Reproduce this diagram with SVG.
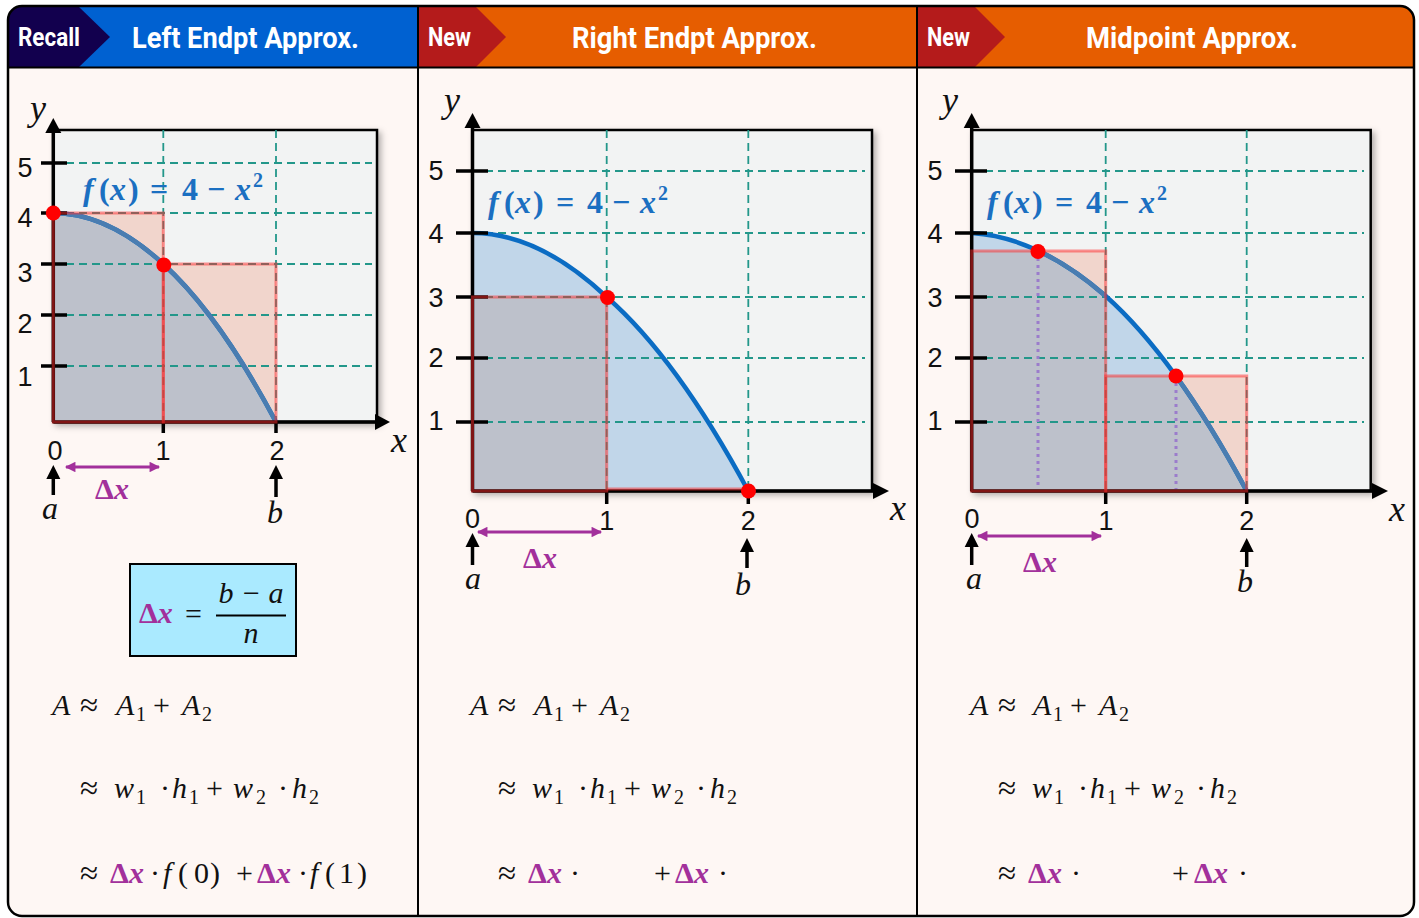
<svg xmlns="http://www.w3.org/2000/svg" width="1419" height="918" viewBox="0 0 1419 918">
<style>
.hd{font-family:Roboto,"Liberation Sans",sans-serif;font-weight:700;fill:#fff}
.tk{font-family:"Liberation Sans",Arial,sans-serif;font-size:27px;fill:#111;text-anchor:middle}
.it{font-style:italic}
.m{font-family:"Liberation Serif","Times New Roman",serif;font-size:30px;fill:#111}
.sb{font-size:20px}
.ap{font-size:33px}
.dx{fill:#a2309b;font-weight:bold}
.fl{font-family:"Liberation Serif","Times New Roman",serif;font-size:32px;font-weight:bold;fill:#1b6fc1}
.grid{stroke:#23978a;stroke-width:1.8;stroke-dasharray:8 5;fill:none}
.ax{stroke:#000;stroke-width:3.5;fill:none}
.plot{fill:#f2f3f3;stroke:#000;stroke-width:2.5}
.pink{fill:#f1d5cc}
.blue{fill:#c1d6e9}
.gb{fill:#bdc1cb}
.cv{fill:none;stroke:#0b6cc3;stroke-width:4.5}
.cvm{fill:none;stroke:#4a7db1;stroke-width:4.5}
.rs{fill:none;stroke:#ff2a2a;stroke-opacity:.5;stroke-width:3}
.dot{fill:#ff0000}
.pa{stroke:#a2309b;stroke-width:3;fill:none;marker-start:url(#pah);marker-end:url(#pah)}
.ua{stroke:#000;stroke-width:3.5;fill:none}
.lbl{font-family:"Liberation Serif","Times New Roman",serif;font-style:italic;fill:#111;text-anchor:middle}
.mid{stroke:#9b7ccc;stroke-width:3;stroke-dasharray:3 4;fill:none}
</style>
<defs>
<marker id="pah" viewBox="0 0 10 10" refX="9" refY="5" markerWidth="4" markerHeight="3.5" orient="auto-start-reverse" markerUnits="strokeWidth"><path d="M0,0 L10,5 L0,10 z" fill="#a2309b"/></marker>
<filter id="sh" x="-5%" y="-5%" width="115%" height="115%"><feDropShadow dx="3" dy="3" stdDeviation="3" flood-color="#000" flood-opacity="0.3"/></filter>
<clipPath id="frame"><rect x="8" y="6" width="1406" height="910" rx="14"/></clipPath>
<clipPath id="c1"><rect x="53.3" y="213" width="110" height="209"/><rect x="163.3" y="264" width="112.7" height="158"/></clipPath>
<clipPath id="c2"><rect x="472.5" y="297" width="134.2" height="194"/></clipPath>
<clipPath id="c3"><rect x="971.7" y="251" width="134" height="240"/><rect x="1105.7" y="376" width="141" height="115"/></clipPath>
</defs>

<g id="frame-bg">
<rect x="8" y="6" width="1406" height="910" rx="14" fill="#fef7f4"/>
<g clip-path="url(#frame)">
<rect x="8" y="6" width="410" height="62" fill="#0061d1"/>
<polygon points="8,6 78,6 110,37 78,68 8,68" fill="#12004e"/>
<rect x="418" y="6" width="499" height="62" fill="#e65d00"/>
<polygon points="418,6 475,6 506,37 475,68 418,68" fill="#b41b1b"/>
<rect x="917" y="6" width="497" height="62" fill="#e65d00"/>
<polygon points="917,6 974,6 1005,37 974,68 917,68" fill="#b41b1b"/>
</g>
<line x1="8" y1="67.5" x2="1414" y2="67.5" stroke="#000" stroke-width="2"/>
<line x1="418" y1="6" x2="418" y2="916" stroke="#000" stroke-width="2"/>
<line x1="917" y1="6" x2="917" y2="916" stroke="#000" stroke-width="2"/>
<rect x="8" y="6" width="1406" height="910" rx="14" fill="none" stroke="#000" stroke-width="2.5"/>
</g>

<g id="hdr-left">
<text class="hd" x="18" y="46" font-size="25" textLength="62" lengthAdjust="spacingAndGlyphs">Recall</text>
<text class="hd" x="132" y="48" font-size="30" textLength="227" lengthAdjust="spacingAndGlyphs">Left Endpt Approx.</text>
</g>
<g id="hdr-mid">
<text class="hd" x="428" y="46" font-size="25" textLength="43" lengthAdjust="spacingAndGlyphs">New</text>
<text class="hd" x="572" y="48" font-size="30" textLength="245" lengthAdjust="spacingAndGlyphs">Right Endpt Approx.</text>
</g>
<g id="hdr-right">
<text class="hd" x="927" y="46" font-size="25" textLength="43" lengthAdjust="spacingAndGlyphs">New</text>
<text class="hd" x="1086" y="48" font-size="30" textLength="212" lengthAdjust="spacingAndGlyphs">Midpoint Approx.</text>
</g>

<g id="graph-left">
<rect class="plot" x="53.3" y="130" width="323.7" height="292" filter="url(#sh)"/>
<rect class="pink" x="53.3" y="213" width="110" height="209"/>
<rect class="pink" x="163.3" y="264" width="112.7" height="158"/>
<path class="blue" d="M53.3,422 L53.3,213 Q107.9,213 163.3,264 Q219.3,315 276,422 Z"/>
<path class="gb" clip-path="url(#c1)" d="M53.3,422 L53.3,213 Q107.9,213 163.3,264 Q219.3,315 276,422 Z"/>
<path class="grid" d="M53,163H372M53,213H372M53,264H372M53,315H372M53,366H372M163.3,130V422M276,130V422"/>
<path class="cv" d="M53.3,213 Q107.9,213 163.3,264 Q219.3,315 276,422"/>
<path class="cvm" clip-path="url(#c1)" d="M53.3,213 Q107.9,213 163.3,264 Q219.3,315 276,422"/>
<path class="ax" d="M53.3,422V130M53.3,422H376M41,163H67M41,213H67M41,264H67M41,315H67M41,366H67M163.3,422V433M276,422V433"/>
<polygon points="53.3,118 45.3,133 61.3,133" fill="#000"/>
<polygon points="390,422 375,414 375,430" fill="#000"/>
<rect class="rs" x="53.3" y="213" width="110" height="209"/>
<rect class="rs" x="163.3" y="264" width="112.7" height="158"/>
<circle class="dot" cx="53.3" cy="213" r="7.5"/>
<circle class="dot" cx="163.8" cy="265" r="7.5"/>
<text class="tk" x="25" y="177" font-size="28">5</text>
<text class="tk" x="25" y="227" font-size="28">4</text>
<text class="tk" x="25" y="282" font-size="28">3</text>
<text class="tk" x="25" y="333" font-size="28">2</text>
<text class="tk" x="25" y="386" font-size="28">1</text>
<text class="tk" x="55" y="460">0</text>
<text class="tk" x="163" y="460">1</text>
<text class="tk" x="277" y="460">2</text>
<text class="lbl" x="399" y="452" font-size="36">x</text>
<text class="lbl" x="38" y="120" font-size="36">y</text>
<text class="lbl" x="50" y="519" font-size="32">a</text>
<text class="lbl" x="275" y="523" font-size="32">b</text>
<text class="m dx" x="112" y="499" text-anchor="middle" font-size="32">Δ<tspan class="it">x</tspan></text>
<text class="fl"><tspan class="it" x="83" y="200">f</tspan><tspan x="99" y="200">(</tspan><tspan class="it" x="110" y="200">x</tspan><tspan x="128" y="200">)</tspan><tspan x="150" y="200">=</tspan><tspan x="182" y="200">4</tspan><tspan x="207" y="200">−</tspan><tspan class="it" x="235" y="200">x</tspan><tspan x="253" y="187" font-size="20">2</tspan></text>
</g>

<g id="formula-box">
<rect x="130" y="564" width="166" height="92" fill="#aaeaff" stroke="#000" stroke-width="2"/>
<text class="m dx" x="139" y="623" font-size="32">Δ<tspan class="it">x</tspan></text>
<text class="m" x="185" y="624" font-size="34">=</text>
<text class="m it" x="251" y="603" text-anchor="middle" font-size="31">b − a</text>
<line x1="216" y1="615.5" x2="286" y2="615.5" stroke="#000" stroke-width="2"/>
<text class="m it" x="251" y="643" text-anchor="middle" font-size="31">n</text>
</g>

<g id="eq-left">
<text class="m"><tspan class="it" x="52" y="715">A</tspan><tspan class="ap" x="80" y="716">≈</tspan><tspan class="it" x="116" y="715">A</tspan><tspan class="sb" x="136" y="721">1</tspan><tspan x="153" y="715">+</tspan><tspan class="it" x="182" y="715">A</tspan><tspan class="sb" x="202" y="721">2</tspan></text>
<text class="m"><tspan class="ap" x="80" y="799">≈</tspan><tspan class="it" x="114" y="798">w</tspan><tspan class="sb" x="136" y="804">1</tspan><tspan x="160" y="798">·</tspan><tspan class="it" x="172" y="798">h</tspan><tspan class="sb" x="189" y="804">1</tspan><tspan x="206" y="798">+</tspan><tspan class="it" x="233" y="798">w</tspan><tspan class="sb" x="256" y="804">2</tspan><tspan x="278" y="798">·</tspan><tspan class="it" x="292" y="798">h</tspan><tspan class="sb" x="309" y="804">2</tspan></text>
<text class="m"><tspan class="ap" x="80" y="884">≈</tspan><tspan class="dx" x="110" y="883">Δ</tspan><tspan class="dx it" x="129" y="883">x</tspan><tspan x="150" y="883">·</tspan><tspan class="it" x="163" y="883">f</tspan><tspan x="178" y="883">(</tspan><tspan x="194" y="883">0</tspan><tspan x="210" y="883">)</tspan><tspan x="236" y="883">+</tspan><tspan class="dx" x="257" y="883">Δ</tspan><tspan class="dx it" x="276" y="883">x</tspan><tspan x="298" y="883">·</tspan><tspan class="it" x="310" y="883">f</tspan><tspan x="325" y="883">(</tspan><tspan x="339" y="883">1</tspan><tspan x="357" y="883">)</tspan></text>
</g>

<g id="graph-mid">
<rect class="plot" x="472.5" y="130" width="399.5" height="361" filter="url(#sh)"/>
<rect class="pink" x="472.5" y="297" width="134.2" height="194"/>
<path class="blue" d="M472.5,491 L472.5,233 Q538.7,233 606.7,297 Q676.6,358 748.3,491 Z"/>
<path class="gb" clip-path="url(#c2)" d="M472.5,491 L472.5,233 Q538.7,233 606.7,297 Q676.6,358 748.3,491 Z"/>
<path class="grid" d="M472,171H865M472,233H865M472,297H865M472,358H865M472,422H865M606.7,130V491M748.3,130V491"/>
<path class="cv" d="M472.5,233 Q538.7,233 606.7,297 Q676.6,358 748.3,491"/>
<path class="ax" d="M472.5,491V128M472.5,491H874M456,171H488M456,233H488M456,297H488M456,358H488M456,422H488M606.7,491V504M748.3,491V504"/>
<polygon points="472.5,113 464.5,128 480.5,128" fill="#000"/>
<polygon points="889,491 873,483 873,499" fill="#000"/>
<rect class="rs" x="472.5" y="297" width="134.2" height="194"/>
<line class="rs" x1="606.7" y1="489" x2="748.3" y2="489"/>
<circle class="dot" cx="607.5" cy="297.5" r="7.5"/>
<circle class="dot" cx="748.5" cy="491" r="7.5"/>
<text class="tk" x="436" y="180">5</text>
<text class="tk" x="436" y="243">4</text>
<text class="tk" x="436" y="307">3</text>
<text class="tk" x="436" y="367">2</text>
<text class="tk" x="436" y="430">1</text>
<text class="tk" x="472.5" y="528" font-size="28">0</text>
<text class="tk" x="606.7" y="530" font-size="28">1</text>
<text class="tk" x="748.3" y="530" font-size="28">2</text>
<text class="lbl" x="898" y="520" font-size="36">x</text>
<text class="lbl" x="452" y="112" font-size="36">y</text>
<text class="lbl" x="473" y="589" font-size="32">a</text>
<text class="lbl" x="743" y="595" font-size="32">b</text>
<text class="m dx" x="540" y="568" text-anchor="middle" font-size="32">Δ<tspan class="it">x</tspan></text>
<text class="fl"><tspan class="it" x="488" y="213">f</tspan><tspan x="504" y="213">(</tspan><tspan class="it" x="515" y="213">x</tspan><tspan x="533" y="213">)</tspan><tspan x="556" y="213">=</tspan><tspan x="587" y="213">4</tspan><tspan x="612" y="213">−</tspan><tspan class="it" x="640" y="213">x</tspan><tspan x="658" y="200" font-size="20">2</tspan></text>
</g>

<g id="eq-mid">
<text class="m"><tspan class="it" x="470" y="715">A</tspan><tspan class="ap" x="498" y="716">≈</tspan><tspan class="it" x="534" y="715">A</tspan><tspan class="sb" x="554" y="721">1</tspan><tspan x="571" y="715">+</tspan><tspan class="it" x="600" y="715">A</tspan><tspan class="sb" x="620" y="721">2</tspan></text>
<text class="m"><tspan class="ap" x="498" y="799">≈</tspan><tspan class="it" x="532" y="798">w</tspan><tspan class="sb" x="554" y="804">1</tspan><tspan x="578" y="798">·</tspan><tspan class="it" x="590" y="798">h</tspan><tspan class="sb" x="607" y="804">1</tspan><tspan x="624" y="798">+</tspan><tspan class="it" x="651" y="798">w</tspan><tspan class="sb" x="674" y="804">2</tspan><tspan x="696" y="798">·</tspan><tspan class="it" x="710" y="798">h</tspan><tspan class="sb" x="727" y="804">2</tspan></text>
<text class="m"><tspan class="ap" x="498" y="884">≈</tspan><tspan class="dx" x="528" y="883">Δ</tspan><tspan class="dx it" x="547" y="883">x</tspan><tspan x="570" y="883">·</tspan><tspan x="654" y="883">+</tspan><tspan class="dx" x="675" y="883">Δ</tspan><tspan class="dx it" x="694" y="883">x</tspan><tspan x="718" y="883">·</tspan></text>
</g>

<g id="graph-right">
<rect class="plot" x="971.7" y="130" width="399" height="361" filter="url(#sh)"/>
<rect class="pink" x="971.7" y="251" width="134" height="240"/>
<rect class="pink" x="1105.7" y="376" width="141" height="115"/>
<path class="blue" d="M971.7,491 L971.7,233 Q1037.8,237 1105.7,296 Q1175.3,358 1246.7,491 Z"/>
<path class="gb" clip-path="url(#c3)" d="M971.7,491 L971.7,233 Q1037.8,237 1105.7,296 Q1175.3,358 1246.7,491 Z"/>
<path class="grid" d="M972,171H1364M972,233H1364M972,297H1364M972,358H1364M972,422H1364M1105.7,130V491M1246.7,130V491"/>
<path class="cv" d="M971.7,233 Q1037.8,237 1105.7,296 Q1175.3,358 1246.7,491"/>
<path class="cvm" clip-path="url(#c3)" d="M971.7,233 Q1037.8,237 1105.7,296 Q1175.3,358 1246.7,491"/>
<path class="ax" d="M971.7,491V128M971.7,491H1373M955,171H987M955,233H987M955,297H987M955,358H987M955,422H987M1105.7,491V504M1246.7,491V504"/>
<polygon points="971.7,113 963.7,128 979.7,128" fill="#000"/>
<polygon points="1388,491 1372,483 1372,499" fill="#000"/>
<rect class="rs" x="971.7" y="251" width="134" height="240"/>
<rect class="rs" x="1105.7" y="376" width="141" height="115"/>
<path class="mid" d="M1038,258V489M1176,383V489"/>
<circle class="dot" cx="1038" cy="251.5" r="7.5"/>
<circle class="dot" cx="1176" cy="376" r="7.5"/>
<text class="tk" x="935" y="180">5</text>
<text class="tk" x="935" y="243">4</text>
<text class="tk" x="935" y="307">3</text>
<text class="tk" x="935" y="367">2</text>
<text class="tk" x="935" y="430">1</text>
<text class="tk" x="972" y="528" font-size="28">0</text>
<text class="tk" x="1106" y="530" font-size="28">1</text>
<text class="tk" x="1246.7" y="530" font-size="28">2</text>
<text class="lbl" x="1397" y="521" font-size="36">x</text>
<text class="lbl" x="950" y="112" font-size="36">y</text>
<text class="lbl" x="974" y="589" font-size="32">a</text>
<text class="lbl" x="1245" y="592" font-size="32">b</text>
<text class="m dx" x="1040" y="572" text-anchor="middle" font-size="32">Δ<tspan class="it">x</tspan></text>
<text class="fl"><tspan class="it" x="987" y="213">f</tspan><tspan x="1003" y="213">(</tspan><tspan class="it" x="1014" y="213">x</tspan><tspan x="1032" y="213">)</tspan><tspan x="1055" y="213">=</tspan><tspan x="1086" y="213">4</tspan><tspan x="1111" y="213">−</tspan><tspan class="it" x="1139" y="213">x</tspan><tspan x="1157" y="200" font-size="20">2</tspan></text>
</g>

<g id="eq-right">
<text class="m"><tspan class="it" x="970" y="715">A</tspan><tspan class="ap" x="998" y="716">≈</tspan><tspan class="it" x="1033" y="715">A</tspan><tspan class="sb" x="1053" y="721">1</tspan><tspan x="1070" y="715">+</tspan><tspan class="it" x="1099" y="715">A</tspan><tspan class="sb" x="1119" y="721">2</tspan></text>
<text class="m"><tspan class="ap" x="998" y="799">≈</tspan><tspan class="it" x="1032" y="798">w</tspan><tspan class="sb" x="1054" y="804">1</tspan><tspan x="1078" y="798">·</tspan><tspan class="it" x="1090" y="798">h</tspan><tspan class="sb" x="1107" y="804">1</tspan><tspan x="1124" y="798">+</tspan><tspan class="it" x="1151" y="798">w</tspan><tspan class="sb" x="1174" y="804">2</tspan><tspan x="1196" y="798">·</tspan><tspan class="it" x="1210" y="798">h</tspan><tspan class="sb" x="1227" y="804">2</tspan></text>
<text class="m"><tspan class="ap" x="998" y="884">≈</tspan><tspan class="dx" x="1028" y="883">Δ</tspan><tspan class="dx it" x="1047" y="883">x</tspan><tspan x="1071" y="883">·</tspan><tspan x="1172" y="883">+</tspan><tspan class="dx" x="1194" y="883">Δ</tspan><tspan class="dx it" x="1213" y="883">x</tspan><tspan x="1238" y="883">·</tspan></text>
</g>

<g id="connectors">
<line class="pa" x1="66" y1="467" x2="159" y2="467"/>
<line class="pa" x1="478" y1="532" x2="601" y2="532"/>
<line class="pa" x1="978" y1="536" x2="1101" y2="536"/>
<line class="ua" x1="53.3" y1="495" x2="53.3" y2="476"/>
<polygon points="53.3,465 46.3,479 60.3,479" fill="#000"/>
<line class="ua" x1="276" y1="497" x2="276" y2="476"/>
<polygon points="276,465 269,479 283,479" fill="#000"/>
<line class="ua" x1="472.5" y1="565" x2="472.5" y2="544"/>
<polygon points="472.5,533 465.5,547 479.5,547" fill="#000"/>
<line class="ua" x1="747" y1="568" x2="747" y2="549"/>
<polygon points="747,538 740,552 754,552" fill="#000"/>
<line class="ua" x1="971.7" y1="565" x2="971.7" y2="544"/>
<polygon points="971.7,533 964.7,547 978.7,547" fill="#000"/>
<line class="ua" x1="1246.7" y1="567" x2="1246.7" y2="549"/>
<polygon points="1246.7,538 1239.7,552 1253.7,552" fill="#000"/>
</g>
</svg>
